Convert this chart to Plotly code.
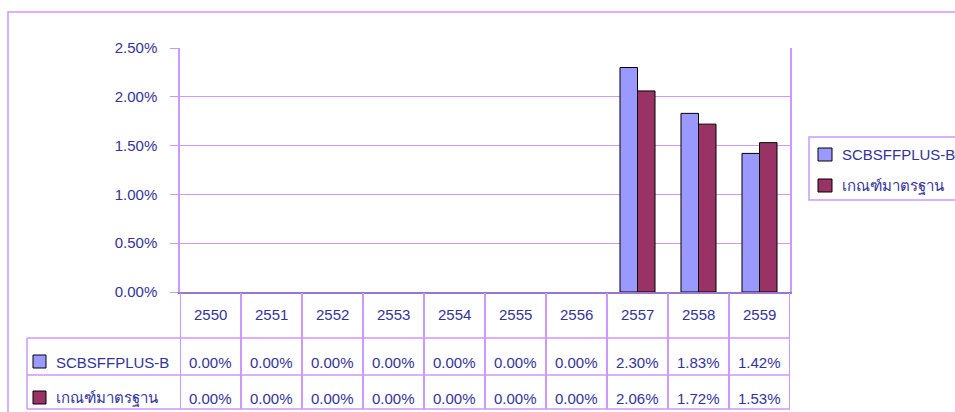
import plotly.graph_objects as go

# ---- data ----
years = ["2550", "2551", "2552", "2553", "2554", "2555", "2556", "2557", "2558", "2559"]
fund = [0.00, 0.00, 0.00, 0.00, 0.00, 0.00, 0.00, 2.30, 1.83, 1.42]
bench = [0.00, 0.00, 0.00, 0.00, 0.00, 0.00, 0.00, 2.06, 1.72, 1.53]
series_names = ["SCBSFFPLUS-B", "เกณฑ์มาตรฐาน"]
y_ticks = [0.0, 0.5, 1.0, 1.5, 2.0, 2.5]

# ---- styling ----
W, H = 955, 412
colors = ["#9999FF", "#993366"]
txt = "#333399"
lav = "#CC99FF"
dark_lav = "#9977CC"
font_family = "Liberation Sans, Arial, Noto Sans, sans-serif"
fs = 15


def px(x):
    return x / W


def py(y):
    return 1 - y / H


fig = go.Figure()
for name, vals, col in zip(series_names, [fund, bench], colors):
    fig.add_trace(go.Bar(
        x=years, y=vals, name=name,
        marker=dict(color=col,
                    line=dict(color="#000000", width=[1 if v > 0 else 0 for v in vals])),
        showlegend=False,
    ))

shapes = []
annotations = []

# outer chart border
shapes.append(dict(type="rect", xref="paper", yref="paper",
                   x0=px(8), y0=py(12), x1=px(W + 10), y1=py(H + 10),
                   line=dict(color=lav, width=1.5)))

# data table lines
t_left, t_right = 27, 790
row_lines = [338, 375, 409]
for yy in row_lines:
    shapes.append(dict(type="line", xref="paper", yref="paper",
                       x0=px(t_left), x1=px(t_right), y0=py(yy), y1=py(yy),
                       line=dict(color=lav, width=1.5)))
shapes.append(dict(type="line", xref="paper", yref="paper",
                   x0=px(t_left), x1=px(t_left), y0=py(338), y1=py(409),
                   line=dict(color=lav, width=1.5)))
for i in range(len(years) + 1):
    shapes.append(dict(type="line", xref="x", yref="paper",
                       x0=i - 0.5, x1=i - 0.5, y0=py(293), y1=py(409),
                       line=dict(color=lav, width=2)))

# header row: years
for i, yr in enumerate(years):
    annotations.append(dict(x=i, xref="x", y=py(314), yref="paper", text=yr,
                            showarrow=False, yanchor="middle",
                            font=dict(size=fs, color=txt)))

# value rows
row_y = [362, 398]
for r, (name, vals, col) in enumerate(zip(series_names, [fund, bench], colors)):
    yc = row_y[r]
    for i, v in enumerate(vals):
        annotations.append(dict(x=i, xref="x", y=py(yc), yref="paper",
                                text=f"{v:.2f}%", showarrow=False, yanchor="middle",
                                font=dict(size=fs, color=txt)))
    shapes.append(dict(type="rect", xref="paper", yref="paper",
                       x0=px(33), x1=px(46), y0=py(yc - 7), y1=py(yc + 6),
                       fillcolor=col, line=dict(color="#000000", width=1)))
    annotations.append(dict(x=px(54), xref="paper", y=py(yc), yref="paper",
                            text=name, showarrow=False, xanchor="left", yanchor="middle",
                            font=dict(size=fs, color=txt)))

# right legend
shapes.append(dict(type="rect", xref="paper", yref="paper",
                   x0=px(809), x1=px(W + 10), y0=py(137), y1=py(200),
                   line=dict(color=lav, width=1.5), fillcolor="white"))
leg_y = [155, 186]
for name, col, yc in zip(series_names, colors, leg_y):
    shapes.append(dict(type="rect", xref="paper", yref="paper",
                       x0=px(818), x1=px(832), y0=py(yc - 7), y1=py(yc + 6),
                       fillcolor=col, line=dict(color="#000000", width=1)))
    annotations.append(dict(x=px(840), xref="paper", y=py(yc), yref="paper",
                            text=name, showarrow=False, xanchor="left", yanchor="middle",
                            font=dict(size=fs, color=txt)))

fig.update_layout(
    width=W, height=H, autosize=False,
    margin=dict(l=0, r=0, t=0, b=0, pad=0, autoexpand=False),
    showlegend=False,
    paper_bgcolor="white", plot_bgcolor="white",
    font=dict(family=font_family, size=fs, color=txt),
    barmode="group", bargap=0.426, bargroupgap=0.0,
    shapes=shapes, annotations=annotations,
    xaxis=dict(domain=[px(180), px(790)], range=[-0.5, len(years) - 0.5],
               showticklabels=False, showgrid=False, ticks="", automargin=False,
               showline=True, linecolor=dark_lav, linewidth=2, zeroline=False),
    yaxis=dict(domain=[py(292), py(48)], range=[0, 2.5], automargin=False,
               tickvals=y_ticks, ticktext=[f"{v:.2f}%" for v in y_ticks],
               showgrid=True, gridcolor=lav, gridwidth=1,
               showline=True, linecolor=lav, linewidth=1.5, mirror=True,
               ticks="outside", ticklen=8, tickcolor=lav,
               ticklabelstandoff=10, zeroline=False,
               tickfont=dict(size=fs, color=txt)),
)

fig.write_html(
    "out.html",
    config={"displayModeBar": False},
    post_script="document.body.style.margin='0';document.body.style.overflow='hidden';",
)
